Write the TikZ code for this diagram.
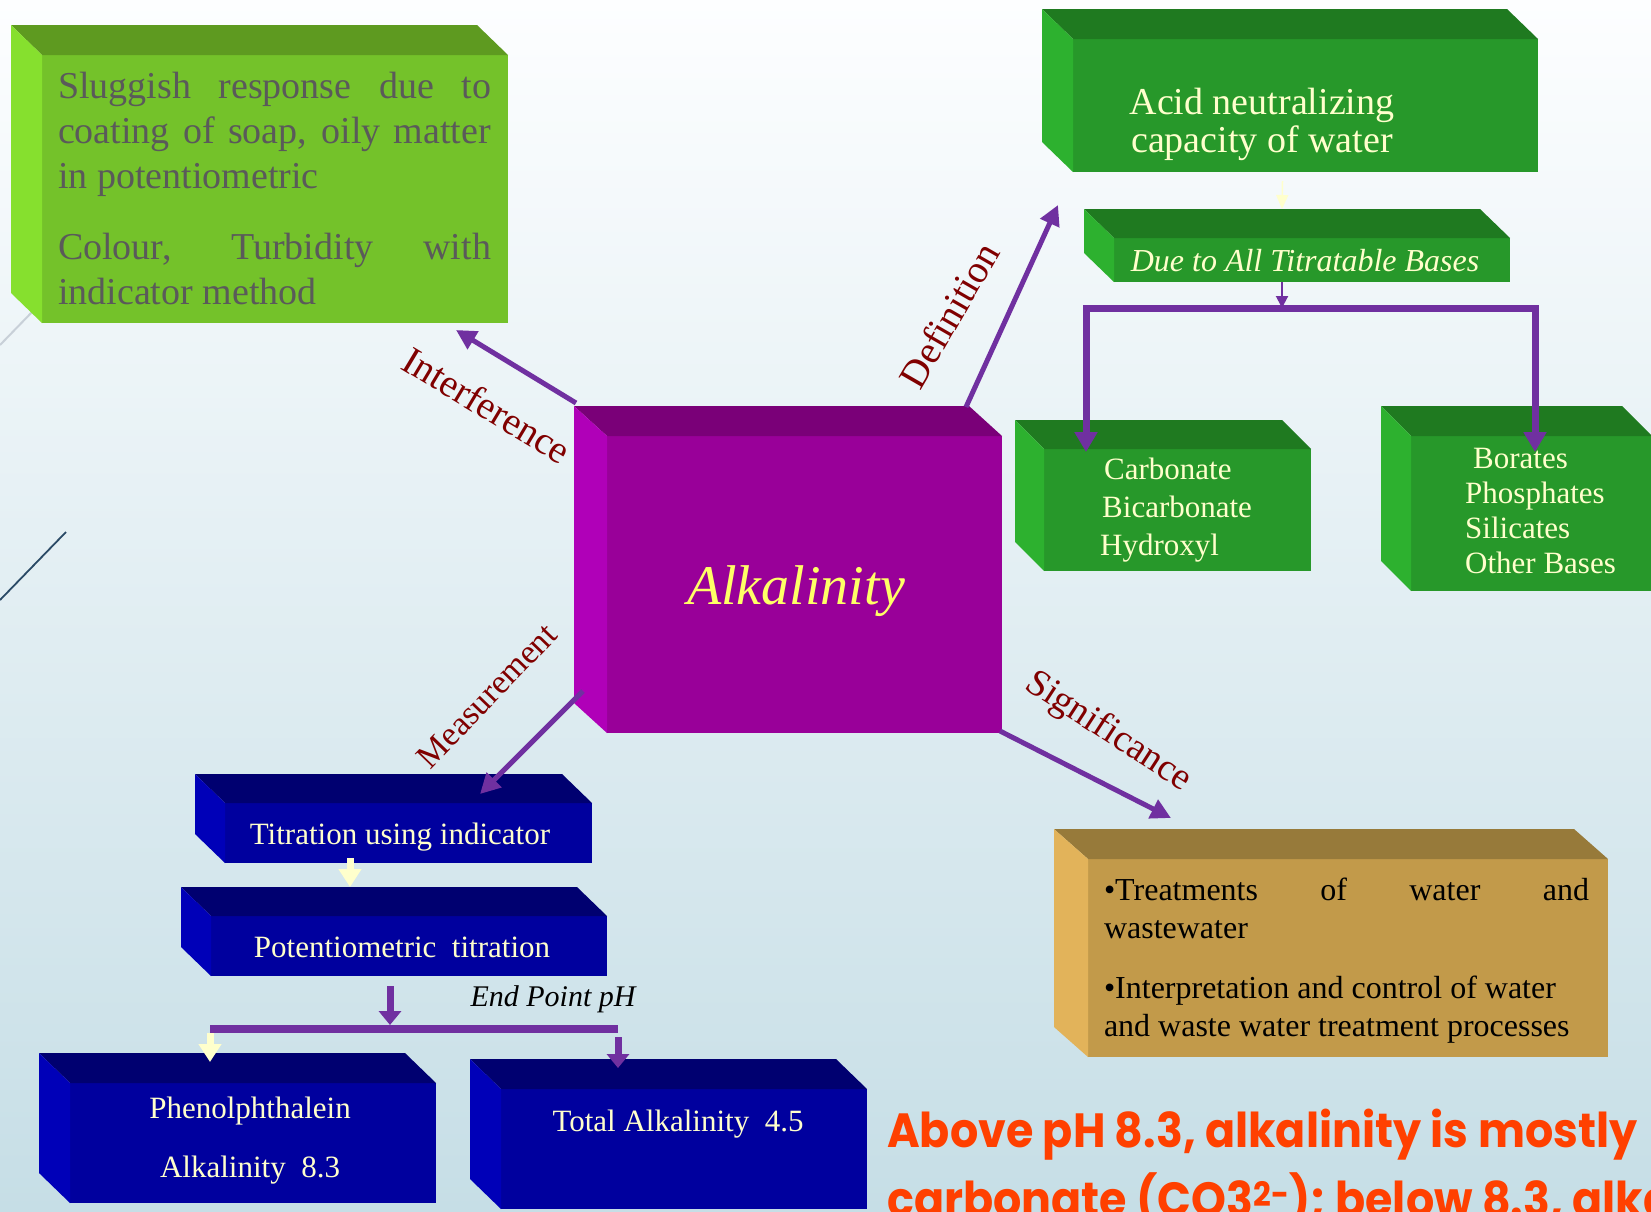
\documentclass[tikz,border=0pt]{standalone}
\usepackage{fontspec}
\setmainfont{Liberation Serif}
\newfontfamily\notefont{Poppins}
\usetikzlibrary{arrows.meta,positioning}

\definecolor{arrowpurple}{RGB}{112,48,160}
\definecolor{limefront}{RGB}{116,194,42}
\definecolor{limetop}{RGB}{94,154,32}
\definecolor{limeside}{RGB}{134,224,46}
\definecolor{greenfront}{RGB}{39,152,42}
\definecolor{greentop}{RGB}{31,122,32}
\definecolor{greenside}{RGB}{45,177,47}
\definecolor{plumfront}{RGB}{153,0,153}
\definecolor{plumtop}{RGB}{122,0,120}
\definecolor{plumside}{RGB}{176,0,184}
\definecolor{navyfront}{RGB}{0,0,158}
\definecolor{navytop}{RGB}{0,0,112}
\definecolor{navyside}{RGB}{0,0,184}
\definecolor{ochrefront}{RGB}{194,154,74}
\definecolor{ochretop}{RGB}{151,122,58}
\definecolor{ochreside}{RGB}{226,179,90}
\definecolor{cream}{RGB}{255,255,204}
\definecolor{alkyellow}{RGB}{255,255,102}
\definecolor{labelred}{RGB}{128,0,0}
\definecolor{notered}{RGB}{255,64,0}
\definecolor{greytext}{RGB}{90,90,90}
\definecolor{bgtop}{RGB}{253,254,255}
\definecolor{bgbottom}{RGB}{198,222,230}
\definecolor{lightrule}{RGB}{200,208,216}
\definecolor{darkrule}{RGB}{42,74,102}

\hyphenpenalty=10000
\exhyphenpenalty=10000
\tolerance=9999

\newcommand{\slabfaces}[4]{%
  \fill[#2] (#1.north west) -- ++(#4) -- ([shift={(#4)}]#1.north east) -- (#1.north east) -- cycle;
  \fill[#3] (#1.north west) -- ++(#4) -- ([shift={(#4)}]#1.south west) -- (#1.south west) -- cycle;}

\begin{document}
\begin{tikzpicture}[x=1pt, y=-1pt,
  slab/.style={rectangle, inner sep=0pt, outer sep=0pt, anchor=north west},
  boxtext/.style={text=cream, inner sep=0pt},
  tag/.style={text=labelred, inner sep=0pt},
  notetext/.style={anchor=base west, inner sep=0pt, text=notered, font=\notefont\bfseries\fontsize{48}{48}\selectfont},
  bigarrow/.style={draw=arrowpurple, line width=5pt, -{Triangle[width=20pt,length=20pt]}},
  branch/.style={draw=arrowpurple, line width=7pt, {Triangle[width=22pt,length=20pt]}-{Triangle[width=22pt,length=20pt]}},
  thinarrow/.style={draw=arrowpurple, line width=2pt, -{Triangle[width=12pt,length=12pt]}},
  paleline/.style={draw=cream, line width=1.5pt, -{Triangle[width=12pt,length=14pt]}},
  palestub/.style={draw=cream, line width=7pt, -{Triangle[width=22pt,length=18pt]}},
  purplestub/.style={draw=arrowpurple, line width=7pt, -{Triangle[width=22pt,length=14pt]}}]

      \useasboundingbox (0,0) rectangle (1651,1211);
      \clip (0,0) rectangle (1651,1211);
      \shade[top color=bgtop, bottom color=bgbottom] (0,0) rectangle (1651,1211);
      \draw[lightrule, line width=2pt] (0,345) -- (34,310);
      \draw[darkrule, line width=1.8pt] (0,600) -- (66,532);

      \node[slab, fill=limefront, minimum width=466pt, minimum height=268pt] (interf) at (42,55) {};
      \slabfaces{interf}{limetop}{limeside}{-31,-30}
      \node[text width=433pt, align=justify, text=greytext, inner sep=0pt, font=\fontsize{38}{45}\selectfont] (interftxt) at (274.5,188)
        {\noindent Sluggish response due to coating of soap, oily matter in potentiometric\\[26pt]Colour, Turbidity with indicator method};

      \node[slab, fill=greenfront, minimum width=465pt, minimum height=133pt] (acid) at (1073,39) {};
      \slabfaces{acid}{greentop}{greenside}{-31,-30}
      \node[boxtext, align=center, font=\fontsize{38}{38}\selectfont] (acidtxt) at (1262,124) {Acid neutralizing\\capacity of water};

      \node[slab, fill=greenfront, minimum width=396pt, minimum height=44pt] (due) at (1114,238) {};
      \slabfaces{due}{greentop}{greenside}{-30,-29}
      \node[boxtext, anchor=base, font=\itshape\fontsize{32}{32}\selectfont] (duetxt) at (1305,271) {Due to All Titratable Bases};

      \node[slab, fill=greenfront, minimum width=267pt, minimum height=122pt] (carb) at (1044,449) {};
      \slabfaces{carb}{greentop}{greenside}{-29,-29}
      \node[boxtext, anchor=west, align=left, font=\fontsize{31}{38}\selectfont] (carbtxt) at (1100,510)
        {\hspace*{4pt}Carbonate\\\hspace*{2pt}Bicarbonate\\Hydroxyl};

      \node[slab, fill=greenfront, minimum width=241pt, minimum height=155pt] (bor) at (1411,436) {};
      \slabfaces{bor}{greentop}{greenside}{-30,-30}
      \node[boxtext, anchor=west, align=left, font=\fontsize{31}{35.3}\selectfont] (bortxt) at (1465,511)
        {\hspace*{8pt}Borates\\Phosphates\\Silicates\\Other Bases};

      \node[slab, fill=plumfront, minimum width=395pt, minimum height=297pt] (alk) at (607,436) {};
      \slabfaces{alk}{plumtop}{plumside}{-33,-30}
      \node[anchor=base, text=alkyellow, inner sep=0pt, font=\itshape\fontsize{56}{56}\selectfont] (alktxt) at (796,604) {Alkalinity};

      \node[slab, fill=navyfront, minimum width=367pt, minimum height=60pt] (titr) at (225,803) {};
      \slabfaces{titr}{navytop}{navyside}{-30,-29}
      \node[boxtext, anchor=base, font=\fontsize{31}{31}\selectfont] (titrtxt) at (400,844) {Titration using indicator};

      \node[slab, fill=navyfront, minimum width=396pt, minimum height=60pt] (poten) at (211,916) {};
      \slabfaces{poten}{navytop}{navyside}{-30,-29}
      \node[boxtext, anchor=base, font=\fontsize{31}{31}\selectfont] (potentxt) at (402,957) {Potentiometric\ \ titration};

      \node[slab, fill=navyfront, minimum width=366pt, minimum height=120pt] (phen) at (70,1083) {};
      \slabfaces{phen}{navytop}{navyside}{-31,-30}
      \node[boxtext, align=center, font=\fontsize{31}{59}\selectfont] (phentxt) at (250,1140.5) {Phenolphthalein\\Alkalinity\ \ 8.3};

      \node[slab, fill=navyfront, minimum width=366pt, minimum height=120pt] (total) at (501,1089) {};
      \slabfaces{total}{navytop}{navyside}{-31,-30}
      \node[boxtext, anchor=base, font=\fontsize{31}{31}\selectfont] (totaltxt) at (678,1131) {Total Alkalinity\ \ 4.5};

      \node[slab, fill=ochrefront, minimum width=520pt, minimum height=198pt] (signif) at (1088,859) {};
      \slabfaces{signif}{ochretop}{ochreside}{-34,-30}
      \node[text width=485pt, align=justify, inner sep=0pt, font=\fontsize{32}{38}\selectfont] (signiftxt) at (1346.5,961)
        {\noindent •Treatments of water and\linebreak wastewater\\[22pt]•Interpretation and control of water\\and waste water treatment processes};

      \node[anchor=base, inner sep=0pt, font=\itshape\fontsize{30}{30}\selectfont] (endpt) at (553,1006) {End Point pH};

      \node[notetext] (note) at (887,1147) {\scalebox{0.925}[1]{Above pH 8.3, alkalinity is mostly}};
      \node[notetext] (notecont) at (887,1216) {\scalebox{0.925}[1]{carbonate (CO3\textsuperscript{2-}); below 8.3, alkalinity}};

      \coordinate (interfin) at ([shift={(-52,7)}]interf.south east);
      \coordinate (defin) at ([shift={(-15,33)}]acid.south west);
      \coordinate (measin) at ([shift={(-112,-9)}]titr.north east);
      \coordinate (signin) at ([shift={(83,-41)}]signif.north west);
      \draw[bigarrow] ([shift={(-31,-33)}]alk.north west) -- (interfin);
      \draw[bigarrow] ([shift={(-36,-29)}]alk.north east) -- (defin);
      \draw[bigarrow] ([shift={(-24,-42)}]alk.south west) -- (measin);
      \draw[bigarrow] ([shift={(-2,-2)}]alk.south east) -- (signin);

      \coordinate (duein) at ([shift={(-30,-29)}]due.north);
      \draw[paleline] ([shift={(-23,9)}]acid.south) -- (duein);
      \coordinate (fork) at ([shift={(-30,26)}]due.south);
      \draw[thinarrow] (due.south -| fork) -- (fork);
      \coordinate (carbin) at ([shift={(42,3)}]carb.north west);
      \coordinate (borin) at ([shift={(124,16)}]bor.north west);
      \draw[branch] (carbin) |- (fork) -| (borin);

      \coordinate (potin) at ([shift={(139,-29)}]poten.north west);
      \draw[palestub] (potin |- titr.south) ++(0,-5) -- (potin);
      \coordinate (split) at ([shift={(179,53)}]poten.south west);
      \draw[purplestub] (poten.south -| split) ++(0,10) -- ([yshift=4pt]split);
      \coordinate (phenin) at ([shift={(140,-21)}]phen.north west);
      \coordinate (totin) at ([shift={(117,-21)}]total.north west);
      \draw[draw=arrowpurple, line width=8pt] (phenin |- split) -- (totin |- split);
      \draw[palestub] (phenin |- split) ++(0,4) -- (phenin);
      \draw[purplestub] (totin |- split) ++(0,8) -- (totin);

      \node[tag, rotate=-31, font=\fontsize{39}{39}\selectfont] (interflbl) at (487,405) {Interference};
      \node[tag, rotate=60, font=\fontsize{39}{39}\selectfont] (deflbl) at (949,315) {Definition};
      \node[tag, rotate=46, font=\fontsize{34}{34}\selectfont] (measlbl) at (487,696) {Measurement};
      \node[tag, rotate=-33, font=\fontsize{38}{38}\selectfont] (siglbl) at (1108,732) {Significance};
\end{tikzpicture}
\end{document}
